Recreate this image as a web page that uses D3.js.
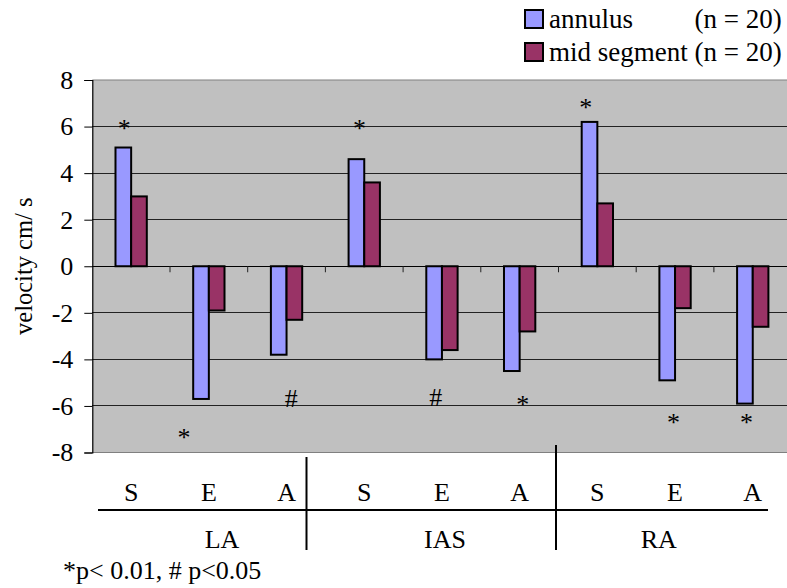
<!DOCTYPE html>
<html>
<head>
<meta charset="utf-8">
<script src="https://cdn.jsdelivr.net/npm/d3@7/dist/d3.min.js"></script>
<style>
  html, body { margin: 0; padding: 0; background: #fff; }
  svg { display: block; }
  svg text { font-family: "Liberation Serif", "Times New Roman", Times, "DejaVu Serif", serif !important; fill: #000; }
</style>
</head>
<body>
<svg id="chart" width="787" height="588"></svg>
<script>
// ---------------- data ----------------
const regions = ["LA", "IAS", "RA"];
const phases = ["S", "E", "A"];
const seriesNames = ["annulus", "mid segment"];
const seriesN = ["(n = 20)", "(n = 20)"];
const annulus    = [5.1, -5.7, -3.8, 4.6, -4.0, -4.5, 6.2, -4.9, -5.9];
const midSegment = [3.0, -1.9, -2.3, 3.6, -3.6, -2.8, 2.7, -1.8, -2.6];
const yTicks = [-8, -6, -4, -2, 0, 2, 4, 6, 8];
// significance marks: position in category units (0..9) and value units (text baseline)
const markLabels = ["*", "*", "*", "*", "#", "#", "*", "*", "*"];
const markCatPos = [0.41, 3.44, 6.35, 1.18, 2.56, 4.42, 5.54, 7.48, 8.42];
const markValPos = [5.55, 5.55, 6.45, -7.72, -6.03, -6.0, -6.30, -7.07, -7.07];
// region label positions in category units
const groupCenters = [1.67, 4.54, 7.29];
const footnote = "*p< 0.01, # p<0.05";

const colors = ["#9999FF", "#993366"];
const FONT = "'Liberation Serif', 'Times New Roman', Times, 'DejaVu Serif', serif";

// categories (9) built from regions x phases
const categories = [];
regions.forEach(r => phases.forEach(p => categories.push({ region: r, phase: p, key: r + "-" + p })));

// ---------------- layout ----------------
const svg = d3.select("#chart").attr("font-family", FONT);
const plot = { left: 92.3, top: 80, right: 791.6, bottom: 452.5 };
const FS = 26;

const x0 = d3.scaleBand()
  .domain(categories.map(c => c.key))
  .range([plot.left, plot.right])
  .paddingInner(0.597)
  .paddingOuter(0.2985);
const x1 = d3.scaleBand().domain(seriesNames).range([0, x0.bandwidth()]);
const xc = d3.scaleLinear().domain([0, categories.length]).range([plot.left, plot.right]);
const y = d3.scaleLinear().domain([-8, 8]).range([plot.bottom, plot.top]);

// plot background
svg.append("rect")
  .attr("x", plot.left).attr("y", plot.top)
  .attr("width", plot.right - plot.left).attr("height", plot.bottom - plot.top)
  .attr("fill", "#C0C0C0");

// gridlines
svg.append("g").selectAll("line")
  .data(yTicks.filter(t => t !== 8 && t !== -8))
  .join("line")
  .attr("x1", plot.left).attr("x2", plot.right)
  .attr("y1", d => y(d)).attr("y2", d => y(d))
  .attr("stroke", d => d === 0 ? "#000" : "#222")
  .attr("stroke-width", 1)
  .attr("shape-rendering", "crispEdges");

// plot border top/bottom
[8, -8].forEach(v => {
  svg.append("line")
    .attr("x1", plot.left).attr("x2", plot.right)
    .attr("y1", y(v)).attr("y2", y(v))
    .attr("stroke", "#808080").attr("stroke-width", 1.2);
});

// category ticks on zero line
svg.append("g").selectAll("line")
  .data(d3.range(1, categories.length))
  .join("line")
  .attr("x1", d => xc(d)).attr("x2", d => xc(d))
  .attr("y1", y(0)).attr("y2", y(0) + 6)
  .attr("stroke", "#222").attr("stroke-width", 1);

// bars
const seriesData = [annulus, midSegment];
const barG = svg.append("g");
categories.forEach((c, i) => {
  seriesNames.forEach((s, j) => {
    const v = seriesData[j][i];
    barG.append("rect")
      .attr("x", x0(c.key) + x1(s))
      .attr("width", x1.bandwidth())
      .attr("y", y(Math.max(0, v)))
      .attr("height", Math.abs(y(v) - y(0)))
      .attr("fill", colors[j])
      .attr("stroke", "#000")
      .attr("stroke-width", 2);
  });
});

// y axis
const yAxis = d3.axisLeft(y).tickValues(yTicks).tickSize(8).tickPadding(11)
  .tickFormat(d => d < 0 ? "-" + Math.abs(d) : String(d));
const yG = svg.append("g").attr("transform", `translate(${plot.left},0)`).call(yAxis)
  .attr("font-family", FONT).attr("font-size", FS);
yG.select(".domain").attr("stroke", "#000").attr("stroke-width", 1.2);
yG.selectAll(".tick line").attr("stroke", "#000");
yG.selectAll(".tick text").attr("fill", "#000");

// y axis title
svg.append("text")
  .attr("transform", `translate(32, ${(plot.top + plot.bottom) / 2}) rotate(-90)`)
  .attr("text-anchor", "middle")
  .attr("font-size", 24.5)
  .text("velocity cm/ s");

// significance marks
svg.append("g").selectAll("text")
  .data(markLabels.map((m, i) => ({ m, cx: markCatPos[i], v: markValPos[i] })))
  .join("text")
  .attr("x", d => xc(d.cx)).attr("y", d => y(d.v))
  .attr("text-anchor", "middle")
  .attr("font-size", FS)
  .text(d => d.m);

// ---------------- category table under plot ----------------
const tableLineY = 510;
svg.append("line")
  .attr("x1", 98).attr("x2", 768)
  .attr("y1", tableLineY).attr("y2", tableLineY)
  .attr("stroke", "#000").attr("stroke-width", 2);
svg.append("line")
  .attr("x1", 306.5).attr("x2", 306.5).attr("y1", 457).attr("y2", 550)
  .attr("stroke", "#000").attr("stroke-width", 2);
svg.append("line")
  .attr("x1", 556).attr("x2", 556).attr("y1", 445).attr("y2", 550)
  .attr("stroke", "#000").attr("stroke-width", 2);

svg.append("g").selectAll("text")
  .data(categories)
  .join("text")
  .attr("x", d => x0(d.key) + x0.bandwidth() / 2)
  .attr("y", 501)
  .attr("text-anchor", "middle")
  .attr("font-size", FS)
  .text(d => d.phase);

svg.append("g").selectAll("text")
  .data(regions)
  .join("text")
  .attr("x", (d, i) => xc(groupCenters[i]))
  .attr("y", 548)
  .attr("text-anchor", "middle")
  .attr("font-size", FS)
  .text(d => d);

svg.append("text")
  .attr("x", 63).attr("y", 579)
  .attr("font-size", FS)
  .text(footnote);

// ---------------- legend ----------------
const LFS = 27;
const legX = 525, legTextX = 549;
const legRows = [19, 52];
const row2 = svg.append("text")
  .attr("x", legTextX).attr("y", legRows[1] + 9)
  .attr("font-size", LFS)
  .text(seriesNames[1] + " " + seriesN[1]);
const rightEdge = legTextX + row2.node().getComputedTextLength();
svg.append("text")
  .attr("x", legTextX).attr("y", legRows[0] + 9)
  .attr("font-size", LFS)
  .text(seriesNames[0]);
svg.append("text")
  .attr("x", rightEdge).attr("y", legRows[0] + 9)
  .attr("text-anchor", "end")
  .attr("font-size", LFS)
  .text(seriesN[0]);
seriesNames.forEach((s, j) => {
  svg.append("rect")
    .attr("x", legX).attr("y", legRows[j] - 9)
    .attr("width", 18).attr("height", 18)
    .attr("fill", colors[j])
    .attr("stroke", "#000").attr("stroke-width", 2);
});
</script>
</body>
</html>
